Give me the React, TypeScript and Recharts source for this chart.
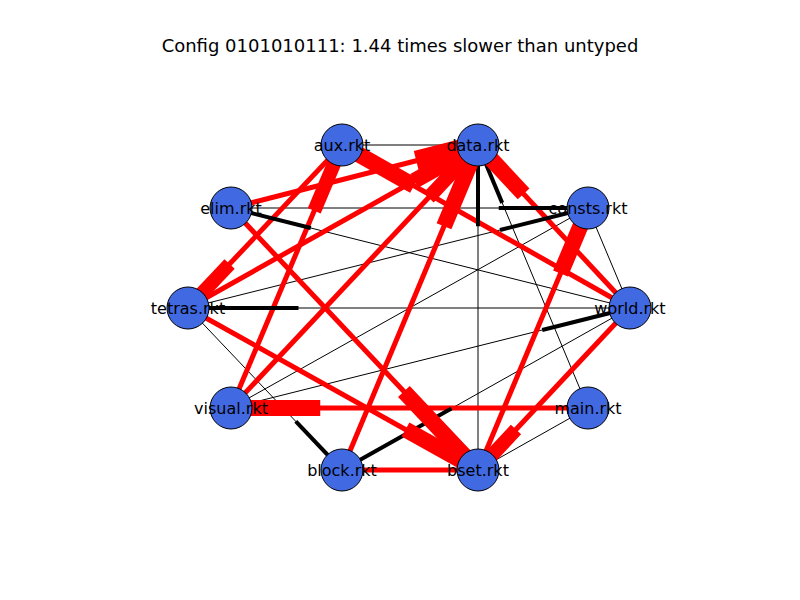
import { ScatterChart, Scatter, XAxis, YAxis } from "recharts"

const nodeNames = ["aux.rkt", "data.rkt", "consts.rkt", "world.rkt", "main.rkt", "bset.rkt", "block.rkt", "visual.rkt", "tetras.rkt", "elim.rkt"]
const nodeX = [342, 478, 588, 630, 588, 478, 342, 231, 188, 231]
const nodeY = [145, 145, 208, 308, 408, 470, 470, 408, 308, 208]

// [from, to (thick end), color, line width, head width, head length fraction]
const edges: [string, string, string, number, number, number][] = [
  ["data.rkt", "aux.rkt", "#000", 1, 1, 0],
  ["elim.rkt", "consts.rkt", "#000", 1, 4, 0.25],
  ["world.rkt", "elim.rkt", "#000", 1, 4, 0.2],
  ["world.rkt", "tetras.rkt", "#000", 1, 4, 0.25],
  ["tetras.rkt", "consts.rkt", "#000", 1, 4, 0.22],
  ["tetras.rkt", "block.rkt", "#000", 1, 4, 0.3],
  ["bset.rkt", "data.rkt", "#000", 1, 4, 0.25],
  ["main.rkt", "data.rkt", "#000", 1, 4, 0.22],
  ["world.rkt", "consts.rkt", "#000", 1, 2, 0.15],
  ["visual.rkt", "world.rkt", "#000", 1, 4, 0.22],
  ["consts.rkt", "visual.rkt", "#000", 1, 1, 0],
  ["world.rkt", "block.rkt", "#000", 1, 4, 0.38],
  ["main.rkt", "bset.rkt", "#000", 1, 1, 0],
  ["world.rkt", "aux.rkt", "#f00", 5, 16, 0.25],
  ["elim.rkt", "data.rkt", "#f00", 5, 20, 0.25],
  ["tetras.rkt", "data.rkt", "#f00", 5, 16, 0.22],
  ["aux.rkt", "tetras.rkt", "#f00", 5, 14, 0.27],
  ["visual.rkt", "aux.rkt", "#f00", 5, 14, 0.25],
  ["visual.rkt", "data.rkt", "#f00", 5, 14, 0.2],
  ["block.rkt", "data.rkt", "#f00", 5, 16, 0.25],
  ["bset.rkt", "consts.rkt", "#f00", 5, 16, 0.25],
  ["world.rkt", "data.rkt", "#f00", 5, 16, 0.3],
  ["elim.rkt", "bset.rkt", "#f00", 5, 16, 0.3],
  ["tetras.rkt", "bset.rkt", "#f00", 5, 16, 0.25],
  ["main.rkt", "visual.rkt", "#f00", 5, 16, 0.25],
  ["bset.rkt", "block.rkt", "#f00", 5, 14, 0.12],
  ["world.rkt", "bset.rkt", "#f00", 5, 14, 0.25],
]

const pos = (name: string) => {
  const i = nodeNames.indexOf(name)
  return { x: nodeX[i], y: nodeY[i] }
}

const nodes = nodeNames.map((name, i) => ({ name, x: nodeX[i], y: nodeY[i] }))

const NodeShape = (props: any) => {
  const { cx, cy, payload } = props
  return (
    <g>
      <circle cx={cx} cy={cy} r={21} fill="#4169e1" stroke="#000" strokeWidth={1} />
      <text x={cx} y={cy} textAnchor="middle" dominantBaseline="central" fontSize={16} fill="#000" fontFamily="DejaVu Sans">
        {payload.name}
      </text>
    </g>
  )
}

const App = () => {
  return (
    <div style={{ position: "absolute", top: 0, left: 0, width: 800, height: 600, background: "#fff" }}>
      <div style={{ position: "absolute", top: 35, width: 800, textAlign: "center", fontFamily: "DejaVu Sans", fontSize: 18 }}>
        Config 0101010111: 1.44 times slower than untyped
      </div>
      <ScatterChart width={800} height={600} margin={{ top: 0, right: 0, bottom: 0, left: 0 }}>
        <XAxis type="number" dataKey="x" domain={[0, 800]} hide />
        <YAxis type="number" dataKey="y" domain={[0, 600]} reversed hide />
        {edges.map(([from, to, color, w], i) => (
          <Scatter key={`e${i}`} data={[pos(from), pos(to)]} line={{ stroke: color, strokeWidth: w }} shape={() => <g />} isAnimationActive={false} />
        ))}
        {edges.filter((e) => e[5] > 0).map(([from, to, color, , hw, len], i) => {
          const a = pos(from)
          const b = pos(to)
          const s = { x: b.x + (a.x - b.x) * len, y: b.y + (a.y - b.y) * len }
          return <Scatter key={`h${i}`} data={[s, b]} line={{ stroke: color, strokeWidth: hw }} shape={() => <g />} isAnimationActive={false} />
        })}
        <Scatter data={nodes} shape={NodeShape} isAnimationActive={false} />
      </ScatterChart>
    </div>
  )
}

export default App
